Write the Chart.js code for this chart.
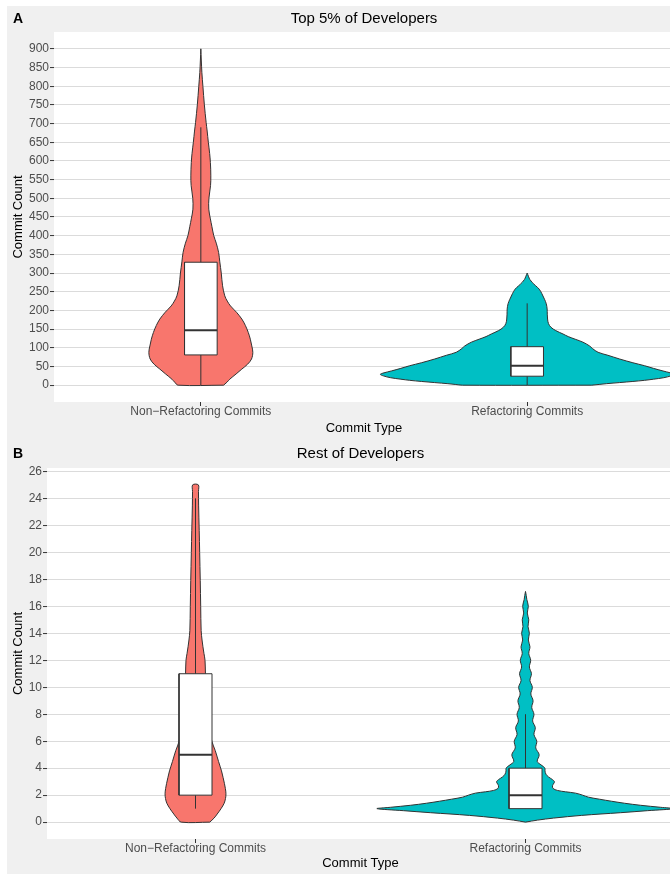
<!DOCTYPE html>
<html>
<head>
<meta charset="utf-8">
<script src="https://cdn.jsdelivr.net/npm/chart.js@4.4.1/dist/chart.umd.min.js"></script>
<style>
  html, body { margin: 0; padding: 0; background: #ffffff; overflow: hidden; width: 670px; height: 875px; }
  #figure { position: relative; width: 681px; height: 875px; }
  #backdrop { position: absolute; left: 7px; top: 6px; width: 674px; height: 868px; background: #f0f0f0; }
  canvas { position: absolute; left: 7px; }
  #chartTop { top: 6px; }
  #chartRest { top: 437px; }
  .tag { position: absolute; left: 13px; font: bold 14px 'Liberation Sans', Arial, sans-serif; line-height: 14px; color: #000; }
  .title { position: absolute; font: 15px 'Liberation Sans', Arial, sans-serif; line-height: 15px; color: #000; text-align: center; white-space: nowrap; }
</style>
</head>
<body>
<div id="figure">
  <div id="backdrop"></div>
  <canvas id="chartTop" width="674" height="431"></canvas>
  <canvas id="chartRest" width="674" height="438"></canvas>
  <div class="tag" style="top:11px">A</div>
  <div class="title" style="left:54px; width:620px; top:10px">Top 5% of Developers</div>
  <div class="tag" style="top:446px">B</div>
  <div class="title" style="left:47px; width:627px; top:445px">Rest of Developers</div>
</div>
<script>
// Commit types on the x axis
const categories = ['Non\u2212Refactoring Commits', 'Refactoring Commits'];

// Y tick labels for each panel
const yTicksTop = [0, 50, 100, 150, 200, 250, 300, 350, 400, 450, 500, 550, 600, 650, 700, 750, 800, 850, 900];
const yTicksRest = [0, 2, 4, 6, 8, 10, 12, 14, 16, 18, 20, 22, 24, 26];

// Violin density profiles: commit-count levels and relative width (1 = widest violin of the panel)
const topNonRefLevels = [0, 8, 16, 30, 43, 56, 70, 88, 105, 123, 141, 160, 177, 195, 212, 225, 239, 266, 300, 330, 355, 380, 400, 425, 445, 471, 500, 534, 560, 596, 620, 650, 680, 703, 750, 800, 837, 870, 900];
const topNonRefDensity = [0.155, 0.178, 0.197, 0.240, 0.279, 0.318, 0.345, 0.354, 0.347, 0.337, 0.323, 0.303, 0.279, 0.243, 0.202, 0.180, 0.163, 0.148, 0.139, 0.129, 0.121, 0.105, 0.088, 0.075, 0.065, 0.054, 0.055, 0.066, 0.068, 0.065, 0.060, 0.051, 0.043, 0.036, 0.024, 0.014, 0.007, 0.003, 0];

const topRefLevels = [0, 2, 4, 7, 10, 13, 16, 20, 25, 29, 33, 38, 45, 52, 60, 70, 80, 88, 98, 105, 115, 123, 130, 137, 146, 155, 165, 177, 190, 204, 218, 230, 245, 257, 266, 275, 283, 290, 296, 300];
const topRefDensity = [0.44, 0.49, 0.54, 0.63, 0.72, 0.80, 0.86, 0.93, 0.98, 1.0, 0.975, 0.925, 0.86, 0.80, 0.72, 0.63, 0.55, 0.483, 0.445, 0.425, 0.38, 0.327, 0.28, 0.244, 0.195, 0.162, 0.145, 0.139, 0.137, 0.136, 0.130, 0.118, 0.100, 0.082, 0.058, 0.034, 0.018, 0.010, 0.004, 0];

const restNonRefLevels = [0, 0.3, 0.6, 1.0, 1.4, 1.75, 2.1, 2.5, 2.85, 3.3, 3.8, 4.5, 5.3, 6, 7, 8, 9, 10, 11, 12, 12.5, 13, 13.5, 14.2, 16, 17.9, 20, 21.6, 23.5, 24.5, 25];
const restNonRefDensity = [0.096, 0.125, 0.146, 0.172, 0.193, 0.202, 0.205, 0.201, 0.195, 0.186, 0.175, 0.155, 0.133, 0.110, 0.095, 0.085, 0.077, 0.071, 0.067, 0.064, 0.057, 0.050, 0.044, 0.038, 0.035, 0.032, 0.028, 0.025, 0.021, 0.020, 0.019];

const restRefLevels = [0, 0.15, 0.3, 0.5, 0.7, 0.85, 1.0, 1.1, 1.25, 1.4, 1.55, 1.7, 1.85, 2.0, 2.15, 2.25, 2.35, 2.5, 2.7, 2.9, 3.0, 3.15, 3.35, 3.55, 3.8, 4.0, 4.25, 4.5, 5.0, 5.5, 6.0, 6.5, 7.0, 7.5, 8.0, 8.5, 9.0, 9.5, 10.0, 10.5, 11.0, 11.5, 12.0, 12.5, 13.0, 13.5, 14.0, 14.5, 15.0, 15.5, 16.0, 16.5, 16.8, 17.1];
const restRefDensity = [0, 0.081, 0.189, 0.377, 0.640, 0.822, 1.0, 0.909, 0.774, 0.667, 0.579, 0.498, 0.424, 0.384, 0.337, 0.269, 0.215, 0.185, 0.182, 0.192, 0.195, 0.182, 0.155, 0.138, 0.131, 0.131, 0.104, 0.079, 0.092, 0.069, 0.076, 0.057, 0.066, 0.048, 0.057, 0.042, 0.051, 0.036, 0.046, 0.030, 0.040, 0.026, 0.035, 0.022, 0.030, 0.019, 0.026, 0.017, 0.022, 0.012, 0.019, 0.009, 0.005, 0];

// Box plot statistics: [lower whisker, Q1, median, Q3, upper whisker]
const topNonRefBox = [0, 81, 147, 329, 690];
const topRefBox = [0, 24, 52, 103, 219];
const restNonRefBox = [1, 2, 5, 11, 24];
const restRefBox = [1, 1, 2, 4, 8];

const FILLS = ['#F8766D', '#00BFC4'];
const INK = '#333333';
const VIOLIN_HALF = 0.45;
const BOX_HALF = 0.05;
const FONT = "'Liberation Sans', Arial, sans-serif";

Chart.defaults.font.family = FONT;

function panelDatasets(levelsList, densityList, boxList) {
  const sets = [];
  categories.forEach((_, i) => {
    const c = i + 1;
    const lv = levelsList[i], dn = densityList[i];
    const right = lv.map((y, k) => ({ x: c + dn[k] * VIOLIN_HALF, y }));
    const left = lv.map((y, k) => ({ x: c - dn[k] * VIOLIN_HALF, y })).reverse();
    sets.push({
      data: right.concat(left, [right[0]]),
      backgroundColor: FILLS[i], borderColor: INK, borderWidth: 1,
      fill: 'shape', tension: 0.35, borderJoinStyle: 'round', order: 4
    });
    const [lo, q1, med, q3, hi] = boxList[i];
    sets.push({
      data: [{ x: c, y: lo }, { x: c, y: hi }],
      borderColor: INK, borderWidth: 1, fill: false, tension: 0, order: 3
    });
    sets.push({
      data: [{ x: c - BOX_HALF, y: q1 }, { x: c + BOX_HALF, y: q1 }, { x: c + BOX_HALF, y: q3 },
             { x: c - BOX_HALF, y: q3 }, { x: c - BOX_HALF, y: q1 }],
      backgroundColor: '#ffffff', borderColor: INK, borderWidth: 1,
      fill: 'shape', tension: 0, order: 2
    });
    sets.push({
      data: [{ x: c - BOX_HALF, y: med }, { x: c + BOX_HALF, y: med }],
      borderColor: INK, borderWidth: 2, fill: false, tension: 0, order: 1
    });
  });
  return sets;
}

// white panel behind the grid
const panelBackground = {
  id: 'panelBackground',
  beforeDraw(chart) {
    const { ctx, chartArea: a } = chart;
    ctx.save();
    ctx.fillStyle = '#ffffff';
    ctx.fillRect(a.left, a.top, a.right - a.left, a.bottom - a.top);
    ctx.restore();
  }
};

function makePanel(id, levelsList, densityList, boxList, yTicks, opts) {
  const low = Math.min(...levelsList.flat().concat(0));
  const peak = Math.max(...levelsList.flat());
  const pad = (peak - low) * 0.05;
  return new Chart(document.getElementById(id), {
    type: 'scatter',
    data: { datasets: panelDatasets(levelsList, densityList, boxList) },
    plugins: [panelBackground],
    options: {
      responsive: false,
      animation: false,
      devicePixelRatio: 1,
      layout: { padding: { top: opts.padTop, right: 7, left: 0, bottom: 0 } },
      elements: { point: { radius: 0, hoverRadius: 0 }, line: { capBezierPoints: true } },
      datasets: { scatter: { showLine: true, pointRadius: 0 } },
      plugins: { legend: { display: false }, tooltip: { enabled: false } },
      scales: {
        x: {
          type: 'linear',
          min: 1 - VIOLIN_HALF, max: categories.length + VIOLIN_HALF,
          afterBuildTicks: s => { s.ticks = categories.map((_, i) => ({ value: i + 1 })); },
          afterFit: s => { s.height = opts.xHeight; },
          border: { display: false },
          grid: { drawOnChartArea: false, drawTicks: true, tickLength: 4, tickColor: INK, tickWidth: 1 },
          ticks: {
            autoSkip: false, maxRotation: 0, padding: 0,
            color: '#4D4D4D', font: { size: 12, lineHeight: 1 },
            callback: v => categories[Math.round(v) - 1]
          },
          title: { display: true, text: 'Commit Type', color: '#000', font: { size: 13 }, padding: { top: 0, bottom: opts.xTitlePad } }
        },
        y: {
          type: 'linear',
          min: low - pad, max: peak + pad,
          afterBuildTicks: s => { s.ticks = yTicks.map(v => ({ value: v })); },
          afterFit: s => { s.width = opts.yWidth; },
          border: { display: false },
          grid: { color: '#DBDBDB', lineWidth: 1.1, drawTicks: true, tickLength: 4, tickColor: INK, tickWidth: 1 },
          ticks: { padding: 1, color: '#4D4D4D', font: { size: 12 }, callback: v => String(v) },
          title: { display: true, text: 'Commit Count', color: '#000', font: { size: 13 }, padding: { top: 3.3, bottom: 0 } }
        }
      }
    }
  });
}

makePanel('chartTop',
  [topNonRefLevels, topRefLevels], [topNonRefDensity, topRefDensity], [topNonRefBox, topRefBox],
  yTicksTop, { padTop: 26, yWidth: 47, xHeight: 35, xTitlePad: 1 });

makePanel('chartRest',
  [restNonRefLevels, restRefLevels], [restNonRefDensity, restRefDensity], [restNonRefBox, restRefBox],
  yTicksRest, { padTop: 31, yWidth: 40, xHeight: 36, xTitlePad: 4 });
</script>
</body>
</html>
